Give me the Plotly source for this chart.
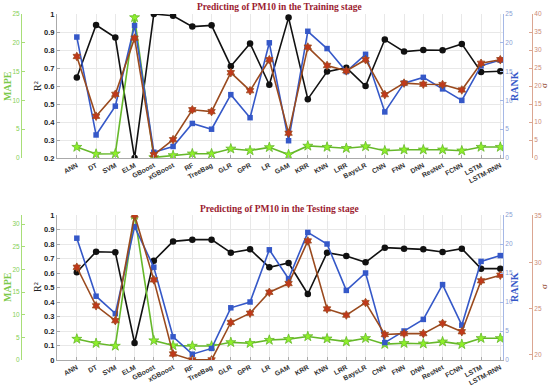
import plotly.graph_objects as go

categories = ["ANN", "DT", "SVM", "ELM", "GBoost", "xGBoost", "RF", "TreeBag", "GLR", "GPR",
              "LR", "GAM", "KRR", "KNN", "LRR", "BaysLR", "CNN", "FNN", "DNN", "ResNet",
              "FCNN", "LSTM", "LSTM-RNN"]

# Training stage
train_r2 = [0.647, 0.939, 0.869, 0.20, 1.0, 0.99, 0.93, 0.937, 0.71, 0.836, 0.607, 0.98,
            0.527, 0.68, 0.702, 0.60, 0.858, 0.791, 0.80, 0.799, 0.834, 0.678, 0.682]
train_rank = [21, 4, 9, 23, 1, 2, 6, 5, 11, 7, 20, 3, 22, 19, 15, 18, 8, 13, 14, 12, 10, 16, 17]
train_sigma = [28.2, 11.6, 17.7, 33.3, 0.9, 5.1, 13.4, 12.9, 23.7, 18.7, 27.3, 6.9,
               30.8, 25.7, 24.2, 27.3, 17.6, 20.8, 20.5, 20.4, 18.9, 26.3, 27.3]
train_mape = [1.9, 0.7, 0.75, 24.4, 0.1, 0.46, 0.75, 0.75, 1.6, 1.3, 1.85, 0.6,
              2.1, 1.9, 1.7, 2.0, 1.27, 1.44, 1.44, 1.44, 1.27, 1.9, 1.9]

# Testing stage
test_r2 = [0.605, 0.747, 0.743, 0.117, 0.685, 0.818, 0.83, 0.83, 0.74, 0.763, 0.639, 0.669,
           0.455, 0.74, 0.717, 0.674, 0.775, 0.768, 0.763, 0.745, 0.768, 0.63, 0.63]
test_rank = [21, 11, 8, 23, 16, 4, 1, 2, 9, 10, 19, 14, 22, 20, 12, 15, 3, 5, 7, 13, 6, 17, 18]
test_sigma = [29.46, 25.3, 23.7, 35.1, 28.1, 20.1, 19.46, 19.46, 23.5, 24.5, 26.76, 27.7,
              32.3, 24.96, 24.3, 25.65, 22.2, 22.3, 22.3, 23.4, 22.5, 28.0, 28.6]
test_mape = [4.64, 3.7, 3.1, 32.0, 4.3, 3.2, 3.1, 3.1, 3.9, 3.7, 4.4, 4.6,
             5.2, 4.7, 4.05, 4.8, 3.5, 3.7, 3.6, 4.05, 3.46, 4.8, 4.8]

W, H = 550, 388
xs = list(range(len(categories)))

def px(v):
    return v / W

def py(v):
    return 1 - v / H

XDOM = [px(57), px(503)]
TOP_DOM = [py(158), py(14)]
BOT_DOM = [py(360), py(215)]

C_R2 = "#111111"
C_RANK = "#3558C8"
C_SIG_LINE = "#9A4A1E"
C_SIG_MK = "#C0391B"
C_MAPE_LINE = "#66B82A"
C_MAPE_MK = "#8EF02A"

fig = go.Figure()

def add_set(r2, rank, sigma, mape, xa, ya):
    # ya: axis ids [r2, mape, rank, sigma]
    fig.add_trace(go.Scatter(x=xs, y=r2, xaxis=xa, yaxis=ya[0], mode="lines+markers",
                             line=dict(color=C_R2, width=1.6),
                             marker=dict(symbol="circle", size=6.5, color=C_R2), showlegend=False))
    fig.add_trace(go.Scatter(x=xs, y=mape, xaxis=xa, yaxis=ya[1], mode="lines+markers",
                             line=dict(color=C_MAPE_LINE, width=1.6),
                             marker=dict(symbol="star", size=7.5, color=C_MAPE_MK,
                                         line=dict(color=C_MAPE_LINE, width=0.8)), showlegend=False))
    fig.add_trace(go.Scatter(x=xs, y=rank, xaxis=xa, yaxis=ya[2], mode="lines+markers",
                             line=dict(color=C_RANK, width=1.6),
                             marker=dict(symbol="square", size=5.5, color=C_RANK), showlegend=False))
    fig.add_trace(go.Scatter(x=xs, y=sigma, xaxis=xa, yaxis=ya[3], mode="lines+markers",
                             line=dict(color=C_SIG_LINE, width=1.6),
                             marker=dict(symbol="hexagram", size=6.5, color=C_SIG_MK,
                                         line=dict(color=C_SIG_LINE, width=0.8)), showlegend=False))

add_set(train_r2, train_rank, train_sigma, train_mape, "x", ["y", "y2", "y3", "y4"])
add_set(test_r2, test_rank, test_sigma, test_mape, "x2", ["y5", "y6", "y7", "y8"])

xcommon = dict(domain=XDOM, range=[-1.03, 22.14], tickmode="array", tickvals=xs,
               ticktext=categories, tickangle=-28, showgrid=True, gridcolor="#e8e8e8",
               gridwidth=1, zeroline=False, showline=True, linecolor="#aaaaaa", ticks="inside",
               ticklen=3, tickcolor="#aaaaaa",
               tickfont=dict(family="Arial", size=6.8, color="#333333", weight="bold"))

def r2_axis(dom, rng, anchor):
    return dict(domain=dom, range=rng, dtick=0.1, tick0=0, anchor=anchor, showgrid=True,
                gridcolor="#e8e8e8", zeroline=False, showline=True, linecolor="#aaaaaa",
                ticks="inside", ticklen=3, tickcolor="#aaaaaa",
                tickfont=dict(family="Arial", size=7.5, color="#222222", weight="bold"))

def side_axis(rng, dtick, side, color, tickcol, overlay, anchor, position=None, tick0=0):
    d = dict(range=rng, dtick=dtick, tick0=tick0, overlaying=overlay, side=side,
             showgrid=False, zeroline=False, showline=True, linecolor=color,
             ticks="inside", ticklen=3, tickcolor=color,
             tickfont=dict(family="Arial", size=6.5, color=tickcol))
    if position is not None:
        d["anchor"] = "free"
        d["position"] = position
    else:
        d["anchor"] = anchor
    return d

GREEN_AX = "#a8de78"
BLUE_AX = "#a5b8e6"
RED_AX = "#dba692"

fig.update_layout(
    width=W, height=H, margin=dict(l=0, r=0, t=0, b=0, autoexpand=False),
    paper_bgcolor="white", plot_bgcolor="white",
    xaxis=dict(anchor="y", **xcommon),
    xaxis2=dict(anchor="y5", **xcommon),
    yaxis=r2_axis(TOP_DOM, [0.2, 1.0], "x"),
    yaxis2=side_axis([0, 25], 5, "left", GREEN_AX, "#86cf55", "y", None, position=px(21)),
    yaxis3=side_axis([0, 25], 5, "right", BLUE_AX, "#8aa0d4", "y", "x"),
    yaxis4=side_axis([0, 40], 5, "right", RED_AX, "#cc8a75", "y", None, position=px(532)),
    yaxis5=r2_axis(BOT_DOM, [0, 1.0], "x2"),
    yaxis6=side_axis([0, 32], 5, "left", GREEN_AX, "#86cf55", "y5", None, position=px(21)),
    yaxis7=side_axis([0, 25], 5, "right", BLUE_AX, "#8aa0d4", "y5", "x2"),
    yaxis8=side_axis([19.45, 35.1], 5, "right", RED_AX, "#cc8a75", "y5", None,
                     position=px(532), tick0=20),
)

title_font = dict(family="Liberation Serif, DejaVu Serif, serif", size=9.5, color="#9B1B30")
annotations = []
for t, x, y in [("<b>Predicting of PM10 in the Training stage</b>", 279, 7),
                ("<b>Predicting of PM10 in the Testing stage</b>", 280, 209)]:
    annotations.append(dict(text=t, x=px(x), y=py(y), xref="paper", yref="paper",
                            showarrow=False, font=title_font, xanchor="center", yanchor="middle"))

serif = "Liberation Serif, DejaVu Serif, serif"
labels = [
    ("<b>MAPE</b>", 7, 86, "#7cc94a", 10),
    ("R²", 37, 86, "#222222", 10),
    ("<b>RANK</b>", 514, 86, "#3558C8", 10),
    ("σ", 544, 86, "#8a3a1a", 9),
    ("<b>MAPE</b>", 7, 287, "#7cc94a", 10),
    ("R²", 37, 287, "#222222", 10),
    ("<b>RANK</b>", 514, 287, "#3558C8", 10),
    ("σ", 544, 287, "#8a3a1a", 9),
]
for t, x, y, c, s in labels:
    annotations.append(dict(text=t, x=px(x), y=py(y), xref="paper", yref="paper",
                            showarrow=False, textangle=-90, xanchor="center", yanchor="middle",
                            borderpad=0, font=dict(family=serif, size=s, color=c)))

fig.update_layout(annotations=annotations)

fig.write_html("out.html", config={"displayModeBar": False},
               post_script="document.body.style.margin='0';")
